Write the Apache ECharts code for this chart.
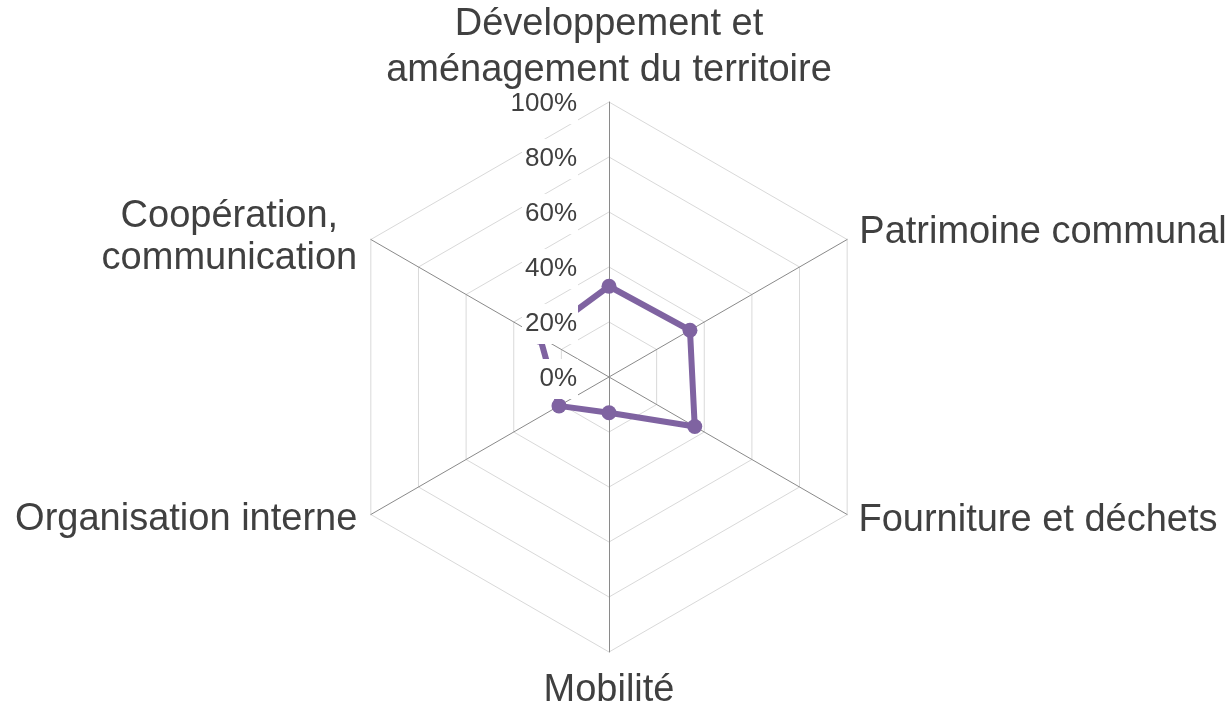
<!DOCTYPE html>
<html>
<head>
<meta charset="utf-8">
<script src="https://cdn.jsdelivr.net/npm/echarts@6/dist/echarts.min.js"></script>
<style>
html,body{margin:0;padding:0;background:#ffffff;}
#chart{width:1232px;height:706px;}
</style>
</head>
<body>
<div id="chart"></div>
<script>
// ---- data (clockwise from top, as in the reference) ----
const categories = [
  'Développement et\naménagement du territoire',
  'Patrimoine communal',
  'Fourniture et déchets',
  'Mobilité',
  'Organisation interne',
  'Coopération,\ncommunication'
];
const values = [33, 34, 36, 13, 21, 29];
const axisMax = 100;
const axisSplits = 5;
const tickSuffix = '%';

// ---- layout / style ----
const FONT = '"Liberation Sans", Arial, sans-serif';
const TEXT = '#404040';
const PURPLE = '#7f63a1';
const CENTER = [609, 377];
const LABEL_CENTER = [609, 379];
const RADIUS = 275;

// per-category name placement tweaks (by category index)
const nameTweaks = {
  0: { nameGap: 8 },
  1: { nameGap: 14 },
  2: { nameGap: 13 },
  3: { nameGap: 16 },
  4: { nameGap: 11, nameTextStyle: { padding: [0, 4, 0, 0] } },
  5: { nameGap: 4, nameTextStyle: { align: 'center', lineHeight: 42, padding: [0, 276, 0, 0] } }
};

// ECharts lays indicators counter-clockwise; reorder to get clockwise order
const order = [0, 5, 4, 3, 2, 1];

const gridIndicators = order.map(i => ({ name: categories[i], max: axisMax, min: 0 }));
const nameIndicators = order.map(i => Object.assign({ name: categories[i], max: axisMax, min: 0 }, nameTweaks[i]));
const labelIndicators = order.map((i, k) => {
  const ind = { name: categories[i], max: axisMax, min: 0 };
  if (k === 0) ind.axisLabel = { show: true };
  return ind;
});
const seriesValues = order.map(i => values[i]);

const hidden = {
  axisLine: { show: false },
  splitLine: { show: false },
  splitArea: { show: false },
  axisTick: { show: false }
};

const chart = echarts.init(document.getElementById('chart'), null, { renderer: 'canvas' });
chart.setOption({
  backgroundColor: '#ffffff',
  animation: false,
  textStyle: { fontFamily: FONT },
  radar: [
    {
      center: CENTER,
      radius: RADIUS,
      startAngle: 90,
      shape: 'polygon',
      splitNumber: axisSplits,
      indicator: gridIndicators,
      axisName: { show: false },
      axisLine: { lineStyle: { color: '#8a8a8a', width: 1 } },
      splitLine: { lineStyle: { color: '#d9d9d9', width: 1 } },
      splitArea: { show: false },
      axisTick: { show: false },
      axisLabel: { show: false },
      z: 0
    },
    Object.assign({
      center: LABEL_CENTER,
      radius: RADIUS,
      startAngle: 90,
      shape: 'polygon',
      splitNumber: axisSplits,
      indicator: labelIndicators,
      axisName: { show: false },
      axisLabel: {
        show: false,
        formatter: '{value}' + tickSuffix,
        color: TEXT,
        fontSize: 26,
        lineHeight: 26,
        fontFamily: FONT,
        margin: 31,
        backgroundColor: '#ffffff',
        padding: [7, 1, 7, 3]
      },
      z: 10
    }, hidden),
    Object.assign({
      center: CENTER,
      radius: RADIUS,
      startAngle: 90,
      shape: 'polygon',
      splitNumber: axisSplits,
      indicator: nameIndicators,
      axisName: {
        color: TEXT,
        fontSize: 38,
        lineHeight: 46,
        fontFamily: FONT
      },
      axisNameGap: 12,
      axisLabel: { show: false },
      z: 20
    }, hidden)
  ],
  series: [
    {
      type: 'radar',
      radarIndex: 0,
      z: 2,
      symbol: 'circle',
      symbolSize: 15,
      lineStyle: { color: PURPLE, width: 6 },
      itemStyle: { color: PURPLE },
      data: [{ value: seriesValues, name: 'Score' }]
    }
  ]
});
</script>
</body>
</html>
